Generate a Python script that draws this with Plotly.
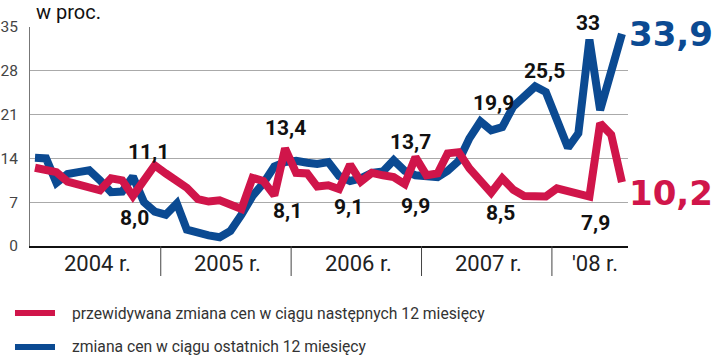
import plotly.graph_objects as go
import pandas as pd

# monthly data, Jan 2004 - Jul 2008
months = pd.date_range("2004-01-01", periods=55, freq="MS") + pd.Timedelta(days=14)

blue = [14.1, 14.0, 10.1, 11.5, 11.8, 12.1, 10.5, 8.6, 8.7, 11.1,
        7.0, 5.5, 5.0, 6.8, 2.6, 2.0, 1.7, 1.4, 2.4, 5.0,
        8.0, 10.0, 12.7, 13.4, 13.6, 13.3, 13.1, 13.4, 11.2, 10.4,
        10.8, 11.7, 11.9, 13.7, 12.0, 11.3, 11.2, 11.0, 12.0, 13.6,
        17.2, 19.9, 18.5, 19.0, 22.3, 24.0, 25.5, 24.6, 20.1, 15.7,
        18.0, 33.0, 21.7, 27.8, 33.9]

red = [12.5, 12.3, 11.8, 10.3, 9.9, 9.5, 8.9, 10.8, 10.5, 8.0,
       10.5, 12.9, 11.6, 10.4, 9.3, 7.5, 7.1, 7.3, 6.7, 5.9,
       10.9, 10.4, 8.1, 15.6, 11.7, 11.6, 9.5, 9.7, 9.1, 13.0,
       10.3, 11.7, 11.3, 11.0, 9.9, 14.2, 11.3, 11.6, 14.8, 15.0,
       12.4, 10.5, 8.5, 10.8, 9.0, 8.0, 7.9, 7.9, 9.2, 8.7,
       8.2, 7.9, 19.6, 17.8, 10.2]

series_names = ["przewidywana zmiana cen w ciągu następnych 12 miesięcy",
                "zmiana cen w ciągu ostatnich 12 miesięcy"]
y_ticks = [0, 7, 14, 21, 28, 35]
year_labels = ["2004 r.", "2005 r.", "2006 r.", "2007 r.", "'08 r."]
year_bounds = ["2004-01-01", "2005-01-01", "2006-01-01", "2007-01-01", "2008-01-01", "2008-08-01"]

# value labels: (series, index, text, xshift, yshift)
labels = [("b", 9, "11,1", 16, 25), ("r", 9, "8,0", 2, -22), ("b", 23, "13,4", 0, 34),
          ("r", 22, "8,1", 13, -16), ("r", 28, "9,1", 9, -18), ("b", 33, "13,7", 17, 18),
          ("r", 34, "9,9", 11, -22), ("b", 41, "19,9", 13, 18), ("r", 42, "8,5", 9, -20),
          ("b", 46, "25,5", 9, 15), ("b", 51, "33", -1, 17), ("r", 51, "7,9", 6, -26)]
end_labels = ["33,9", "10,2"]

BLUE = "#0b4a92"
RED = "#d0154a"

fig = go.Figure()
fig.add_trace(go.Scatter(x=months, y=blue, mode="lines", name=series_names[1],
                         line=dict(color=BLUE, width=8), showlegend=False))
fig.add_trace(go.Scatter(x=months, y=red, mode="lines", name=series_names[0],
                         line=dict(color=RED, width=8), showlegend=False))

ann = []
for s, i, txt, dx, dy in labels:
    v = blue[i] if s == "b" else red[i]
    ann.append(dict(x=months[i], y=v, xref="x", yref="y", text=txt, showarrow=False,
                    xshift=dx, yshift=dy,
                    font=dict(family="Roboto", size=21, color="#111", weight="bold")))
# end values
ann.append(dict(x=months[-1], y=blue[-1], xref="x", yref="y", text=end_labels[0], showarrow=False,
                xanchor="left", xshift=5, yshift=0,
                font=dict(family="DejaVu Sans", size=34, color=BLUE, weight="bold")))
ann.append(dict(x=months[-1], y=red[-1], xref="x", yref="y", text=end_labels[1], showarrow=False,
                xanchor="left", xshift=5, yshift=-11,
                font=dict(family="DejaVu Sans", size=34, color=RED, weight="bold")))

# year labels
for k, lab in enumerate(year_labels):
    a = pd.Timestamp(year_bounds[k]); b = pd.Timestamp(year_bounds[k + 1])
    mid = a + (b - a) / 2
    ann.append(dict(x=mid, y=-0.08, xref="x", yref="paper", text=lab, showarrow=False,
                    yanchor="middle", xshift=(5 if k == 4 else 2),
                    font=dict(family="Roboto", size=22, color="#222")))

# title
ann.append(dict(x=0.006, y=1.07, xref="paper", yref="paper", text="w proc.", showarrow=False,
                xanchor="left", yanchor="middle", font=dict(family="Roboto", size=20, color="#111")))

shapes = []
for d in year_bounds[1:-1]:
    shapes.append(dict(type="line", xref="x", yref="paper", x0=d, x1=d, y0=0, y1=-0.137,
                       line=dict(color="#444", width=1)))

# legend
leg = [(RED, series_names[0], -0.306), (BLUE, series_names[1], -0.461)]
for col, txt, yy in leg:
    shapes.append(dict(type="line", xref="paper", yref="paper", x0=-0.0251, x1=0.0418,
                       y0=yy, y1=yy, line=dict(color=col, width=6)))
    ann.append(dict(x=0.0669, y=yy, xref="paper", yref="paper", text=txt, showarrow=False,
                    xanchor="left", yanchor="middle",
                    font=dict(family="Roboto", size=15.7, color="#333")))

fig.update_layout(
    width=720, height=357,
    margin=dict(l=30, r=92, t=27, b=111),
    paper_bgcolor="white", plot_bgcolor="white",
    showlegend=False,
    annotations=ann, shapes=shapes,
    xaxis=dict(type="date", range=[year_bounds[0], year_bounds[-1]], showgrid=False,
               showticklabels=False, ticks="", showline=True, linecolor="#111", linewidth=2,
               zeroline=False, automargin=False),
    yaxis=dict(range=[0, 35], tickvals=y_ticks, showgrid=True, gridcolor="#aaa", gridwidth=1,
               zeroline=False, showline=True, linecolor="#777", linewidth=1, ticks="",
               ticklabelstandoff=8, automargin=False,
               tickfont=dict(family="Roboto", size=15.5, color="#444")),
)

fig.write_html("out.html", config={"displayModeBar": False},
               post_script="document.body.style.margin='0';")
